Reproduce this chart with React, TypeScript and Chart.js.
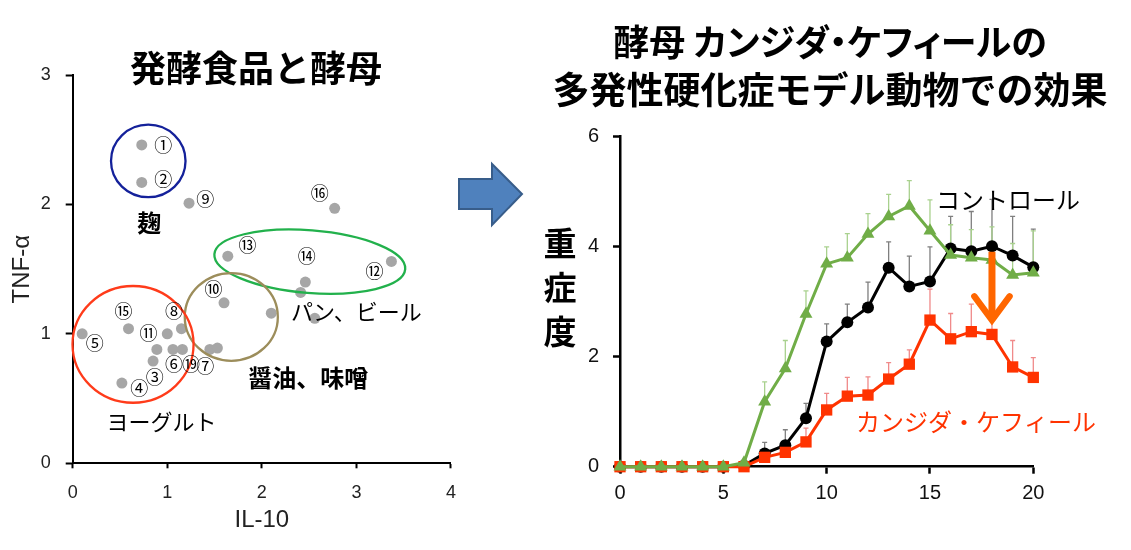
import { useEffect, useRef } from 'react';
import { Chart, registerables } from 'chart.js';

Chart.register(...registerables);

const JP = "'Noto Sans CJK JP', 'Noto Sans', sans-serif";
const LAT = "'Liberation Sans', Arial, sans-serif";

// ---------- Left chart: fermented foods & yeasts (IL-10 vs TNF-α) ----------
const il10Values = [0.73, 0.73, 1.23, 2.77, 1.64, 3.37, 2.46, 2.41, 1.60, 2.10, 2.56, 0.10, 0.59, 1.00, 1.15, 0.89, 1.06, 1.16, 1.45, 1.53, 0.85, 0.52];
const tnfValues = [2.46, 2.17, 2.01, 1.97, 1.60, 1.56, 1.40, 1.32, 1.24, 1.16, 1.12, 1.00, 1.04, 1.00, 1.04, 0.88, 0.88, 0.88, 0.88, 0.89, 0.79, 0.62];

const numberLabels = ['①', '②', '⑨', '⑯', '⑬', '⑭', '⑫', '⑩', '⑮', '⑧', '⑪', '⑤', '⑥', '⑲', '⑦', '③', '④'];
const numberLabelX = [0.958, 0.958, 1.402, 2.611, 1.847, 2.475, 3.191, 1.489, 0.537, 1.070, 0.801, 0.233, 1.070, 1.251, 1.402, 0.868, 0.704];
const numberLabelY = [2.457, 2.195, 2.042, 2.087, 1.687, 1.597, 1.481, 1.345, 1.179, 1.172, 1.005, 0.927, 0.765, 0.765, 0.747, 0.669, 0.580];

const groupNames = ['麹', 'パン、ビール', '醤油、味噌', 'ヨーグルト'];
const groupNameX = [0.81, 3.0, 2.49, 0.94];
const groupNameY = [1.855, 1.172, 0.657, 0.321];
const groupNameBold = [true, false, true, false];

const groupCx = [0.799, 2.507, 1.677, 0.638];
const groupCy = [2.336, 1.558, 1.131, 0.919];
const groupRx = [0.394, 1.012, 0.492, 0.640];
const groupRy = [0.280, 0.242, 0.339, 0.451];
const groupTiltDeg = [0, 4.5, 0, 0];
const groupColors = ['#14219a', '#22b14c', '#9c8d5b', '#ff3b1a'];

const leftXTicks = [0, 1, 2, 3, 4];
const leftYTicks = [0, 1, 2, 3];

// ---------- Right chart: severity score over days ----------
const days = [0, 1, 2, 3, 4, 5, 6, 7, 8, 9, 10, 11, 12, 13, 14, 15, 16, 17, 18, 19, 20];
const greenScore = [0, 0, 0, 0, 0, 0, 0.07, 1.18, 1.78, 2.77, 3.68, 3.79, 4.22, 4.54, 4.73, 4.28, 3.84, 3.79, 3.75, 3.48, 3.52];
const greenErrTop = [0, 0, 0, 0, 0, 0, 0.12, 1.54, 2.29, 3.19, 3.99, 4.23, 4.59, 4.94, 5.19, 4.84, 4.39, 4.30, 4.35, 4.05, 4.28];
const controlScore = [0, 0, 0, 0, 0, 0, 0.02, 0.24, 0.39, 0.88, 2.27, 2.62, 2.89, 3.61, 3.27, 3.36, 3.96, 3.91, 4.00, 3.83, 3.62];
const controlErrTop = [0, 0, 0, 0, 0, 0, 0, 0.44, 0.67, 1.15, 2.59, 2.95, 3.35, 4.08, 3.82, 3.99, 4.54, 4.63, 4.85, 4.54, 4.31];
const kefirScore = [0, 0, 0, 0, 0, 0, 0, 0.17, 0.26, 0.45, 1.03, 1.28, 1.30, 1.59, 1.86, 2.66, 2.32, 2.45, 2.40, 1.81, 1.62];
const kefirErrTop = [0, 0, 0, 0, 0, 0, 0, 0.22, 0.33, 0.70, 1.33, 1.62, 1.63, 1.89, 2.12, 3.22, 2.78, 2.95, 2.90, 2.29, 1.98];

const rightXTicks = [0, 5, 10, 15, 20];
const rightYTicks = [0, 2, 4, 6];

const seriesNames = ['コントロール', 'カンジダ・ケフィール'];
const seriesNameX = [18.78, 17.23];
const seriesNameY = [4.84, 0.81];

const arrowDay = 18;
const arrowFrom = 3.9;
const arrowTo = 2.66;
const arrowHeadTop = 3.09;
const arrowHeadHalf = 0.85;

const leftPlugin = {
  id: 'leftDecor',
  afterDatasetsDraw(chart: any) {
    const { ctx } = chart;
    const xs = chart.scales.x;
    const ys = chart.scales.y;
    const ux = xs.getPixelForValue(1) - xs.getPixelForValue(0);
    const uy = ys.getPixelForValue(0) - ys.getPixelForValue(1);
    ctx.save();
    for (let i = 0; i < groupCx.length; i++) {
      ctx.beginPath();
      ctx.ellipse(xs.getPixelForValue(groupCx[i]), ys.getPixelForValue(groupCy[i]), groupRx[i] * ux, groupRy[i] * uy, (groupTiltDeg[i] * Math.PI) / 180, 0, Math.PI * 2);
      ctx.strokeStyle = groupColors[i];
      ctx.lineWidth = 2.3;
      ctx.stroke();
    }
    ctx.fillStyle = '#000';
    ctx.textAlign = 'center';
    ctx.textBaseline = 'middle';
    ctx.font = `18px ${JP}`;
    for (let i = 0; i < numberLabels.length; i++) {
      ctx.fillText(numberLabels[i], xs.getPixelForValue(numberLabelX[i]), ys.getPixelForValue(numberLabelY[i]));
    }
    for (let i = 0; i < groupNames.length; i++) {
      ctx.font = groupNameBold[i] ? `bold 24px ${JP}` : `22px ${JP}`;
      ctx.fillText(groupNames[i], xs.getPixelForValue(groupNameX[i]), ys.getPixelForValue(groupNameY[i]));
    }
    ctx.restore();
  },
};

function drawErrors(chart: any, values: number[], tops: number[], color: string) {
  const { ctx } = chart;
  const xs = chart.scales.x;
  const ys = chart.scales.y;
  ctx.save();
  ctx.strokeStyle = color;
  ctx.lineWidth = 1.3;
  for (let i = 0; i < days.length; i++) {
    if (tops[i] <= values[i]) continue;
    const px = xs.getPixelForValue(days[i]);
    const y0 = ys.getPixelForValue(values[i]);
    const y1 = ys.getPixelForValue(tops[i]);
    ctx.beginPath();
    ctx.moveTo(px, y0);
    ctx.lineTo(px, y1);
    ctx.moveTo(px - 2.5, y1);
    ctx.lineTo(px + 2.5, y1);
    ctx.stroke();
  }
  ctx.restore();
}

const rightPlugin = {
  id: 'rightDecor',
  beforeDatasetsDraw(chart: any) {
    drawErrors(chart, controlScore, controlErrTop, '#7f7f7f');
    drawErrors(chart, kefirScore, kefirErrTop, '#f08a8a');
    drawErrors(chart, greenScore, greenErrTop, '#a9d18e');
  },
  afterDatasetsDraw(chart: any) {
    const { ctx, chartArea } = chart;
    const xs = chart.scales.x;
    const ys = chart.scales.y;
    ctx.save();
    const ax = xs.getPixelForValue(arrowDay);
    const hw = xs.getPixelForValue(arrowDay + arrowHeadHalf) - ax;
    ctx.strokeStyle = '#ff6600';
    ctx.lineWidth = 7;
    ctx.lineCap = 'butt';
    ctx.beginPath();
    ctx.moveTo(ax, ys.getPixelForValue(arrowFrom));
    ctx.lineTo(ax, ys.getPixelForValue(arrowTo) - 4);
    ctx.stroke();
    ctx.lineWidth = 6.5;
    ctx.lineCap = 'round';
    ctx.lineJoin = 'miter';
    ctx.beginPath();
    ctx.moveTo(ax - hw, ys.getPixelForValue(arrowHeadTop));
    ctx.lineTo(ax, ys.getPixelForValue(arrowTo));
    ctx.lineTo(ax + hw, ys.getPixelForValue(arrowHeadTop));
    ctx.stroke();
    ctx.textAlign = 'center';
    ctx.textBaseline = 'middle';
    ctx.font = `24px ${JP}`;
    ctx.fillStyle = '#000';
    ctx.fillText(seriesNames[0], xs.getPixelForValue(seriesNameX[0]), ys.getPixelForValue(seriesNameY[0]));
    ctx.fillStyle = '#ff3300';
    ctx.fillText(seriesNames[1], xs.getPixelForValue(seriesNameX[1]), ys.getPixelForValue(seriesNameY[1]));
    ctx.fillStyle = '#000';
    ctx.font = `bold 33px ${JP}`;
    const title = '重症度';
    const cx = chartArea.left - 60;
    for (let i = 0; i < title.length; i++) {
      ctx.fillText(title[i], cx, 243 + i * 44);
    }
    ctx.restore();
  },
};

export default function App() {
  const leftRef = useRef<HTMLCanvasElement>(null);
  const rightRef = useRef<HTMLCanvasElement>(null);

  useEffect(() => {
    document.body.style.margin = '0';
    const left = new Chart(leftRef.current as HTMLCanvasElement, {
      type: 'scatter',
      data: {
        datasets: [
          {
            data: il10Values.map((v, i) => ({ x: v, y: tnfValues[i] })),
            backgroundColor: '#a6a6a6',
            borderWidth: 0,
            pointRadius: 5.5,
            clip: false as any,
          },
        ],
      },
      options: {
        responsive: false,
        animation: false,
        events: [],
        layout: { padding: { left: 0, top: 75, right: 15, bottom: 13.7 } },
        plugins: { legend: { display: false }, tooltip: { enabled: false }, title: { display: false } },
        scales: {
          x: {
            type: 'linear',
            min: 0,
            max: 4,
            afterBuildTicks: (s: any) => { s.ticks = leftXTicks.map((v) => ({ value: v })); },
            afterFit: (s: any) => { s.height = 73; },
            ticks: { font: { size: 18, family: LAT }, color: '#222', padding: 14 },
            grid: { display: true, drawOnChartArea: false, drawTicks: true, tickLength: 5, tickColor: '#000', tickWidth: 2 } as any,
            border: { display: true, color: '#000', width: 2 },
            title: { display: true, text: 'IL-10', font: { size: 24, family: LAT }, color: '#222', padding: { top: 0, bottom: 2 } },
          },
          y: {
            type: 'linear',
            min: 0,
            max: 3,
            afterBuildTicks: (s: any) => { s.ticks = leftYTicks.map((v) => ({ value: v })); },
            afterFit: (s: any) => { s.width = 72.7; },
            ticks: { font: { size: 18, family: LAT }, color: '#222', padding: 15 },
            grid: { display: true, drawOnChartArea: false, drawTicks: true, tickLength: 7, tickColor: '#000', tickWidth: 2 } as any,
            border: { display: true, color: '#000', width: 2 },
            title: { display: true, text: 'TNF-α', font: { size: 24, family: LAT }, color: '#222', padding: { top: 8, bottom: 0 } },
          },
        },
      } as any,
      plugins: [leftPlugin],
    });

    const pts = (vals: number[]) => vals.map((v, i) => ({ x: days[i], y: v }));
    const right = new Chart(rightRef.current as HTMLCanvasElement, {
      type: 'line',
      data: {
        datasets: [
          {
            data: pts(greenScore),
            borderColor: '#70ad47',
            backgroundColor: '#70ad47',
            borderWidth: 3,
            pointStyle: 'triangle',
            pointRadius: 7.5,
            pointBorderWidth: 0,
            tension: 0,
            clip: false as any,
          },
          {
            data: pts(kefirScore),
            borderColor: '#ff3300',
            backgroundColor: '#ff3300',
            borderWidth: 3,
            pointStyle: 'rect',
            pointRadius: 8,
            pointBorderWidth: 0,
            tension: 0,
            clip: false as any,
          },
          {
            data: pts(controlScore),
            borderColor: '#000',
            backgroundColor: '#000',
            borderWidth: 3,
            pointStyle: 'circle',
            pointRadius: 6,
            pointBorderWidth: 0,
            tension: 0,
            clip: false as any,
          },
        ],
      },
      options: {
        responsive: false,
        animation: false,
        events: [],
        layout: { padding: { left: 0, top: 136, right: 97.7, bottom: 33.3 } },
        plugins: { legend: { display: false }, tooltip: { enabled: false }, title: { display: false } },
        scales: {
          x: {
            type: 'linear',
            min: 0,
            max: 20,
            afterBuildTicks: (s: any) => { s.ticks = rightXTicks.map((v) => ({ value: v })); },
            afterFit: (s: any) => { s.height = 50; },
            ticks: { font: { size: 20, family: LAT }, color: '#111', padding: 8 },
            grid: { display: true, drawOnChartArea: false, drawTicks: true, tickLength: 7, tickColor: '#000', tickWidth: 2.5 } as any,
            border: { display: true, color: '#000', width: 2.5 },
          },
          y: {
            type: 'linear',
            min: 0,
            max: 6,
            afterBuildTicks: (s: any) => { s.ticks = rightYTicks.map((v) => ({ value: v })); },
            afterFit: (s: any) => { s.width = 150; },
            ticks: { font: { size: 20, family: LAT }, color: '#111', padding: 14 },
            grid: { display: true, drawOnChartArea: false, drawTicks: true, tickLength: 7, tickColor: '#000', tickWidth: 2.5 } as any,
            border: { display: true, color: '#000', width: 2.5 },
          },
        },
      } as any,
      plugins: [rightPlugin],
    });

    return () => {
      left.destroy();
      right.destroy();
    };
  }, []);

  return (
    <div style={{ position: 'absolute', left: 0, top: 0, width: 1131, height: 550, background: '#fff', overflow: 'hidden' }}>
      <canvas ref={leftRef} width={470} height={550} style={{ position: 'absolute', left: 0, top: 0, width: 470, height: 550 }} />
      <canvas ref={rightRef} width={661} height={550} style={{ position: 'absolute', left: 470, top: 0, width: 661, height: 550 }} />
      <div style={{ position: 'absolute', left: 0, top: 48, width: 512, textAlign: 'center', fontFamily: JP, fontWeight: 'bold', fontSize: 36, lineHeight: '36px', color: '#000' }}>
        発酵食品と酵母
      </div>
      <div style={{ position: 'absolute', left: 530, top: 16, width: 600, textAlign: 'center', fontFamily: JP, fontWeight: 'bold', fontSize: 36, lineHeight: '48px', color: '#000' }}>
        <div style={{ fontFeatureSettings: '"palt"' }}>酵母 カンジダ・ケフィールの</div>
        <div style={{ fontSize: 37 }}>多発性硬化症モデル動物での効果</div>
      </div>
      <svg width={1131} height={550} style={{ position: 'absolute', left: 0, top: 0, pointerEvents: 'none' }}>
        <polygon points="459,179 492,179 492,164 522,194 492,225 492,209 459,209" fill="#4f81bd" stroke="#385d8a" strokeWidth={2} />
      </svg>
    </div>
  );
}
